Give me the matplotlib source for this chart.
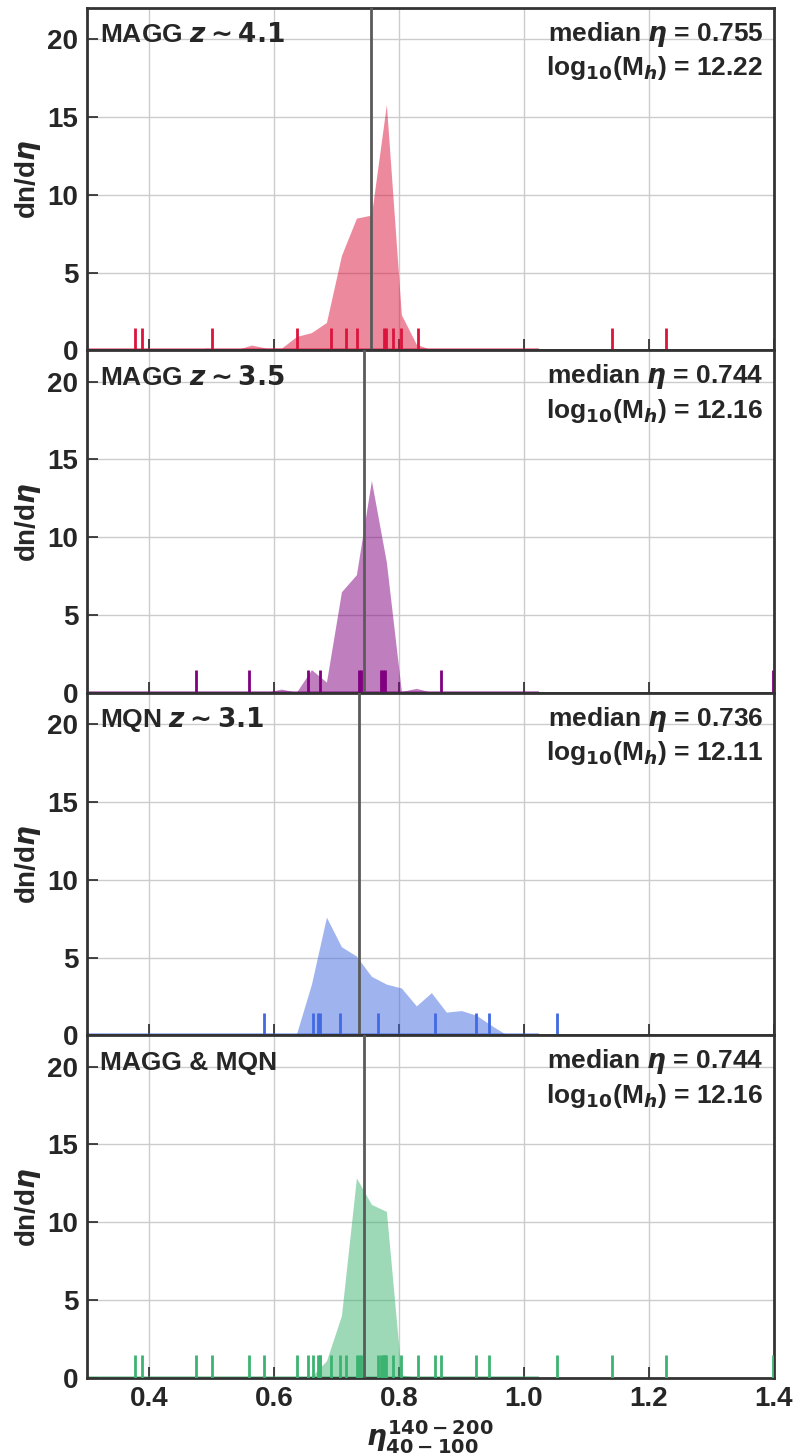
import numpy as np
import matplotlib
matplotlib.use('Agg')
import matplotlib.pyplot as plt

# Style
plt.rcParams['font.family'] = ['Liberation Sans', 'DejaVu Sans']
plt.rcParams['font.weight'] = 'bold'
plt.rcParams['mathtext.fontset'] = 'custom'
plt.rcParams['mathtext.rm'] = 'DejaVu Sans:bold'
plt.rcParams['mathtext.it'] = 'DejaVu Sans:italic:bold'
plt.rcParams['mathtext.bf'] = 'DejaVu Sans:bold'
plt.rcParams['text.color'] = '#262626'
plt.rcParams['axes.labelcolor'] = '#262626'
plt.rcParams['xtick.color'] = '#262626'
plt.rcParams['ytick.color'] = '#262626'

# Data
eta_grid = [0.300, 0.324, 0.348, 0.372, 0.396, 0.420, 0.444, 0.468, 0.492,
            0.516, 0.540, 0.564, 0.588, 0.612, 0.636, 0.660, 0.684, 0.708,
            0.732, 0.756, 0.780, 0.804, 0.828, 0.852, 0.876, 0.900, 0.924,
            0.948, 0.972, 0.996, 1.020]
dens_z41 = [0, 0, 0, 0, 0, 0.05, 0.1, 0.05, 0.15, 0.1, 0.05, 0.35, 0.15,
            0.15, 0.9, 1.15, 1.8, 6.1, 8.5, 8.7, 15.8, 2.3, 0.4, 0.05,
            0, 0, 0, 0, 0, 0, 0]
dens_z35 = [0, 0, 0, 0, 0, 0, 0, 0, 0, 0, 0.02, 0.08, 0.05, 0.25, 0.05,
            1.5, 0.7, 6.5, 7.6, 13.65, 8.4, 0.1, 0.3, 0.05,
            0, 0, 0, 0, 0, 0, 0]
dens_z31 = [0, 0, 0, 0, 0, 0, 0, 0, 0, 0, 0, 0, 0, 0.02, 0.1, 3.3, 7.6,
            5.7, 5.1, 3.8, 3.3, 3.05, 1.9, 2.75, 1.5, 1.6, 1.3, 0.65, 0.05,
            0, 0]
dens_all = [0, 0, 0, 0, 0, 0, 0, 0, 0, 0, 0, 0, 0, 0, 0.02, 0.1, 1.1, 4.0,
            12.85, 11.15, 10.7, 0.2, 0.05, 0, 0, 0, 0, 0, 0, 0, 0]
rug_z41 = [0.377, 0.389, 0.500, 0.637, 0.692, 0.716, 0.733, 0.776, 0.779,
           0.790, 0.803, 0.830, 1.141, 1.228]
rug_z35 = [0.475, 0.560, 0.654, 0.674, 0.736, 0.739, 0.771, 0.774, 0.777,
           0.867, 1.399]
rug_z31 = [0.584, 0.662, 0.670, 0.674, 0.705, 0.766, 0.858, 0.924, 0.944,
           1.054]
rug_all = rug_z41 + rug_z35 + rug_z31
labels = ['MAGG $z\\sim4.1$', 'MAGG $z\\sim3.5$', 'MQN $z\\sim3.1$',
          'MAGG & MQN']
medians = [0.755, 0.744, 0.736, 0.744]
log_mh = [12.22, 12.16, 12.11, 12.16]
colors = ['crimson', 'purple', 'royalblue', 'mediumseagreen']
densities = [dens_z41, dens_z35, dens_z31, dens_all]
rugs = [rug_z41, rug_z35, rug_z31, rug_all]

# Plotting
fig, axes = plt.subplots(4, 1, figsize=[7.95, 14.56], dpi=100, sharex=True)
fig.subplots_adjust(left=0.109, right=0.973, top=0.9945, bottom=0.0536,
                    hspace=0)

for ax, dens, rug, lab, med, mh, c in zip(axes, densities, rugs, labels,
                                          medians, log_mh, colors):
    ax.grid(True, color='#cccccc', lw=1)
    ax.set_axisbelow(True)
    ax.fill_between(eta_grid, dens, color=c, alpha=0.5, lw=0, zorder=2)
    ax.plot(eta_grid, np.zeros(len(eta_grid)), color=c, alpha=0.5, lw=3.5,
            zorder=2)
    ax.vlines(rug, 0, 0.067, color=c, lw=2,
              transform=ax.get_xaxis_transform(), zorder=3)
    ax.axvline(med, color='#5a5a5a', lw=2, zorder=4)
    ax.set_xlim(0.3, 1.4)
    ax.set_ylim(0, 22)
    ax.set_yticks([0, 5, 10, 15, 20])
    ax.set_xticks([0.4, 0.6, 0.8, 1.0, 1.2, 1.4])
    ax.tick_params(direction='in', length=8, width=1.2, labelsize=20,
                   pad=6)
    for s in ax.spines.values():
        s.set_color('#333333')
        s.set_linewidth(2)
    ax.set_ylabel(r'dn/d$\eta$', fontsize=20, fontweight='bold', labelpad=3)
    ax.text(0.02, 0.90, lab, transform=ax.transAxes, fontsize=19,
            fontweight='bold', ha='left', va='baseline')
    ax.text(0.985, 0.904, f'median $\\eta$ = {med:.3f}',
            transform=ax.transAxes, fontsize=19, fontweight='bold',
            ha='right', va='baseline')
    ax.text(0.985, 0.804, f'log$_{{10}}$(M$_{{h}}$) = {mh:.2f}',
            transform=ax.transAxes, fontsize=19, fontweight='bold',
            ha='right', va='baseline')

for label in axes[-1].get_xticklabels() + [l for a in axes
                                           for l in a.get_yticklabels()]:
    label.set_fontweight('bold')
axes[-1].set_xlabel(r'$\eta^{140-200}_{40-100}$', fontsize=20, labelpad=4)

plt.savefig('out.png', dpi=100)
plt.close(fig)
